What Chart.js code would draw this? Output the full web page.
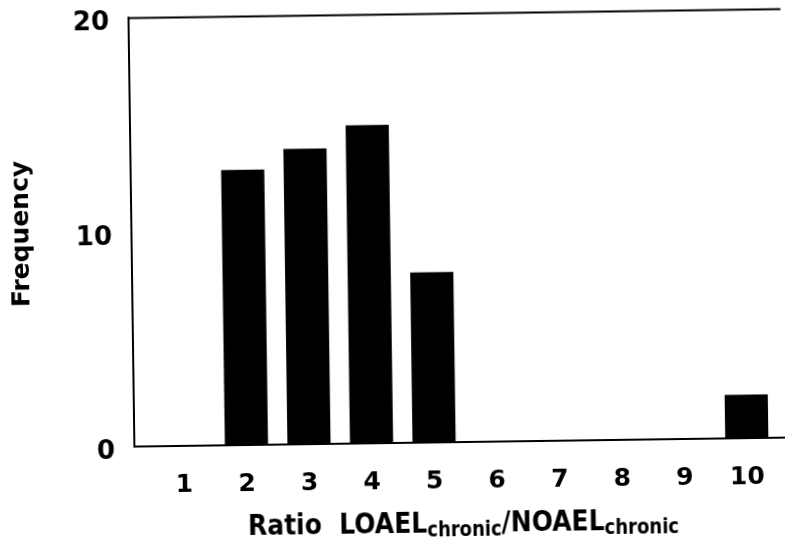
<!DOCTYPE html>
<html><head><meta charset="utf-8">
<script src="https://cdn.jsdelivr.net/npm/chart.js@4/dist/chart.umd.min.js"></script>
<style>
html,body{margin:0;padding:0;background:#fff;overflow:hidden}
#wrap{width:785px;height:542px;transform:rotate(-0.79deg);transform-origin:392.5px 271px}
canvas{display:block}
</style></head><body>
<div id="wrap"><canvas id="c" width="785" height="542" style="width:785px;height:542px"></canvas></div>
<script>
// ---- data ----
const categories = [1, 2, 3, 4, 5, 6, 7, 8, 9, 10];
const frequency  = [0, 12.85, 13.8, 14.85, 7.95, 0, 0, 0, 0, 2.05];
const yTickValues = [0, 10, 20];
const yTitle = 'Frequency';
const xTitleParts = [
  { text: 'Ratio', sub: false },
  { text: '  ', sub: false },
  { text: 'LOAEL', sub: false },
  { text: 'chronic', sub: true },
  { text: '/', sub: false },
  { text: 'NOAEL', sub: false },
  { text: 'chronic', sub: true }
];

const FONT = '"DejaVu Sans", "Liberation Sans", sans-serif';

const decor = {
  id: 'decor',
  beforeDraw(chart) {
    const ctx = chart.ctx;
    ctx.save();
    ctx.fillStyle = '#fff';
    ctx.fillRect(0, 0, chart.width, chart.height);
    ctx.restore();
  },
  afterDraw(chart) {
    const { ctx, chartArea: a } = chart;
    ctx.save();
    // top frame line
    ctx.strokeStyle = '#000';
    ctx.lineWidth = 2;
    ctx.beginPath();
    ctx.moveTo(a.left, a.top);
    ctx.lineTo(a.right + 2, a.top);
    ctx.stroke();
    // x axis title with subscripts
    const mainFont = 'bold 25px ' + FONT;
    const subFont = 'bold 18px ' + FONT;
    const widths = xTitleParts.map(p => {
      ctx.font = p.sub ? subFont : mainFont;
      return ctx.measureText(p.text).width;
    });
    const total = widths.reduce((s, w) => s + w, 0);
    const cx = 460;
    const baseY = 533;
    ctx.translate(cx - total / 2, baseY);
    ctx.scale(1, 1.15);
    ctx.fillStyle = '#000';
    ctx.textBaseline = 'alphabetic';
    ctx.textAlign = 'left';
    let x = 0;
    xTitleParts.forEach((p, i) => {
      ctx.font = p.sub ? subFont : mainFont;
      ctx.fillText(p.text, x, p.sub ? 3.5 : 0);
      x += widths[i];
    });
    ctx.restore();
  }
};

new Chart(document.getElementById('c'), {
  type: 'bar',
  data: {
    datasets: [{
      data: categories.map((c, i) => ({ x: c, y: frequency[i] })),
      backgroundColor: '#000',
      borderWidth: 0,
      categoryPercentage: 1,
      barPercentage: 0.69
    }]
  },
  options: {
    responsive: false,
    animation: false,
    layout: { padding: { left: 7.5, top: 14.4, right: 3, bottom: 0 } },
    plugins: { legend: { display: false }, tooltip: { enabled: false } },
    scales: {
      x: {
        type: 'linear',
        offset: false,
        min: 0.2,
        max: 10.6,
        afterBuildTicks: axis => { axis.ticks = categories.map(v => ({ value: v })); },
        afterFit: scale => { scale.height = 98.6; scale.paddingLeft = 0; scale.paddingRight = 0; },
        grid: { display: false, drawTicks: false, offset: false },
        border: { display: true, color: '#000', width: 2 },
        ticks: {
          color: '#000',
          font: { family: FONT, size: 25, weight: 'bold' },
          padding: 24,
          maxRotation: 0,
          autoSkip: false
        },
        title: { display: false }
      },
      y: {
        min: 0,
        max: 20,
        afterBuildTicks: axis => { axis.ticks = yTickValues.map(v => ({ value: v })); },
        afterFit: scale => { scale.width = 124; scale.paddingTop = 0; scale.paddingBottom = 0; },
        grid: { display: false, drawTicks: false },
        border: { display: true, color: '#000', width: 2 },
        ticks: {
          color: '#000',
          font: { family: FONT, size: 26, weight: 'bold', lineHeight: 1 },
          padding: 19,
          labelOffset: 5
        },
        title: {
          display: true,
          text: yTitle,
          color: '#000',
          font: { family: FONT, size: 25, weight: 'bold', lineHeight: 1.2 },
          padding: { top: 0, bottom: 0 }
        }
      }
    }
  },
  plugins: [decor]
});
</script>
</body></html>
